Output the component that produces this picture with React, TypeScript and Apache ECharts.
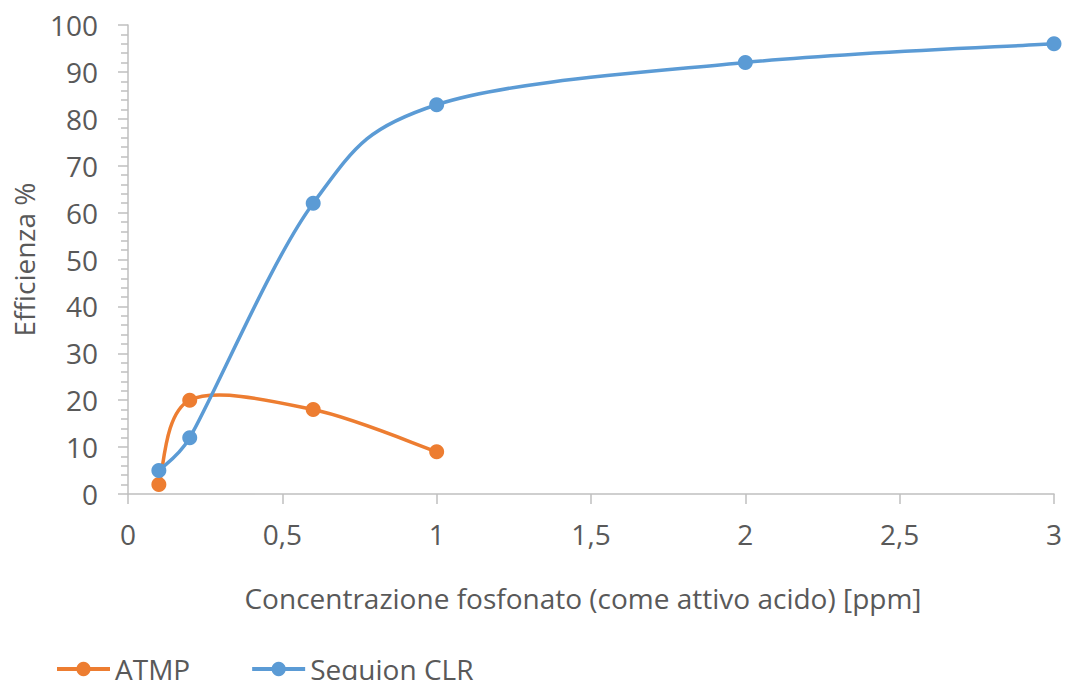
import React, { useEffect, useRef } from "react";
import * as echarts from "echarts";

const atmpX = [0.1, 0.2, 0.6, 1];
const atmpY = [2, 20, 18, 9];
const clrX = [0.1, 0.2, 0.6, 1, 2, 3];
const clrY = [5, 12, 62, 83, 92, 96];
const seriesNames = ["ATMP", "Sequion CLR"];
const xTitle = "Concentrazione fosfonato (come attivo acido) [ppm]";
const yTitle = "Efficienza %";

const FONT = "'Open Sans', 'Noto Sans', sans-serif";
const FS = 28;
const TEXT = "#595959";
const AXIS = "#BFBFBF";
const ORANGE = "#ED7D31";
const BLUE = "#5B9BD5";

const dist = (a: number[], b: number[]) => Math.hypot(b[0] - a[0], b[1] - a[1]);

// Smoothed curve through pixel points: cubic Bezier segments whose handles
// follow the neighbouring points (1/6 of the chord), capped at half the segment.
function splinePath(pts: number[][]): string {
  let d = `M${pts[0][0]},${pts[0][1]}`;
  for (let i = 0; i < pts.length - 1; i++) {
    const p0 = pts[i - 1] || pts[i];
    const p1 = pts[i];
    const p2 = pts[i + 1];
    const p3 = pts[i + 2] || pts[i + 1];
    const seg = dist(p1, p2);
    const t0 = dist(p0, p2);
    const t1 = dist(p1, p3);
    const f0 = t0 / 6 > seg / 2 ? seg / 2 / t0 : 1 / 6;
    const f1 = t1 / 6 > seg / 2 ? seg / 2 / t1 : 1 / 6;
    const c1x = p1[0] + (p2[0] - p0[0]) * f0;
    const c1y = p1[1] + (p2[1] - p0[1]) * f0;
    const c2x = p2[0] - (p3[0] - p1[0]) * f1;
    const c2y = p2[1] - (p3[1] - p1[1]) * f1;
    d += ` C${c1x},${c1y} ${c2x},${c2y} ${p2[0]},${p2[1]}`;
  }
  return d;
}

function curveSeries(xs: number[], ys: number[], color: string, z: number) {
  return {
    type: "custom",
    name: "curve-" + z,
    data: [[xs[0], ys[0]]],
    silent: true,
    z,
    renderItem: (_params: any, api: any) => {
      const pts = xs.map((x, i) => api.coord([x, ys[i]]));
      return {
        type: "path",
        shape: { pathData: splinePath(pts) },
        style: { fill: "none", stroke: color, lineWidth: 3.5 },
      };
    },
  };
}

export default function App() {
  const ref = useRef<HTMLDivElement>(null);

  useEffect(() => {
    if (!ref.current) return;
    const chart = echarts.init(ref.current, null, { renderer: "svg" });
    const pairs = (xs: number[], ys: number[]) => xs.map((x, i) => [x, ys[i]]);
    const markers = (name: string, xs: number[], ys: number[], color: string, z: number) => ({
      name,
      type: "line",
      data: pairs(xs, ys),
      symbol: "circle",
      symbolSize: 15,
      color,
      lineStyle: { width: 3.5, color, opacity: 0 },
      itemStyle: { color },
      z,
    });
    chart.setOption({
      animation: false,
      backgroundColor: "#ffffff",
      textStyle: { fontFamily: FONT, color: TEXT },
      grid: { left: 128, right: 8, top: 25, bottom: 186, containLabel: false },
      legend: {
        left: 55,
        top: 655,
        padding: 0,
        itemWidth: 53,
        itemHeight: 18,
        itemGap: 60,
        lineStyle: { opacity: 1, width: 4 },
        textStyle: { fontFamily: FONT, fontSize: FS, color: TEXT },
        data: seriesNames,
      },
      xAxis: {
        type: "value",
        min: 0,
        max: 3,
        interval: 0.5,
        name: xTitle,
        nameLocation: "middle",
        nameGap: 90,
        nameTextStyle: { fontFamily: FONT, fontSize: FS, color: TEXT, padding: [0, 16, 0, 0] },
        axisLine: { show: true, lineStyle: { color: AXIS, width: 1.5 } },
        axisTick: { show: true, length: 10, lineStyle: { color: AXIS, width: 1.5 } },
        splitLine: { show: false },
        axisLabel: {
          margin: 26,
          fontFamily: FONT,
          fontSize: FS,
          color: TEXT,
          formatter: (v: number) => String(v).replace(".", ","),
        },
      },
      yAxis: {
        type: "value",
        min: 0,
        max: 100,
        interval: 10,
        name: yTitle,
        nameLocation: "middle",
        nameGap: 90,
        nameTextStyle: { fontFamily: FONT, fontSize: FS, color: TEXT },
        axisLine: { show: true, lineStyle: { color: AXIS, width: 1.5 } },
        axisTick: { show: true, length: 10, lineStyle: { color: AXIS, width: 1.5 } },
        minorTick: { show: true, splitNumber: 5, length: 7, lineStyle: { color: AXIS, width: 1.5 } },
        splitLine: { show: false },
        axisLabel: { margin: 30, fontFamily: FONT, fontSize: FS, color: TEXT },
      },
      series: [
        curveSeries(atmpX, atmpY, ORANGE, 1),
        markers(seriesNames[0], atmpX, atmpY, ORANGE, 2),
        curveSeries(clrX, clrY, BLUE, 3),
        markers(seriesNames[1], clrX, clrY, BLUE, 4),
      ],
    });
    return () => chart.dispose();
  }, []);

  return (
    <div
      ref={ref}
      style={{ position: "absolute", left: 0, top: 0, width: 1065, height: 680 }}
    />
  );
}
